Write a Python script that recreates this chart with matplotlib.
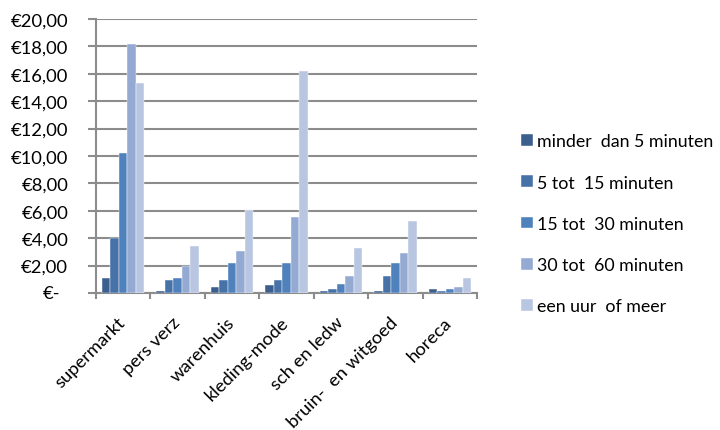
import numpy as np
import matplotlib
matplotlib.use("Agg")
import matplotlib.pyplot as plt
from matplotlib.ticker import MultipleLocator, FuncFormatter
from matplotlib.transforms import ScaledTranslation

categories = ["supermarkt", "pers verz", "warenhuis", "kleding-mode",
              "sch en ledw", "bruin-  en witgoed", "horeca"]
series_names = ["minder  dan 5 minuten", "5 tot  15 minuten", "15 tot  30 minuten",
                "30 tot  60 minuten", "een uur  of meer"]
minder_5 = [1.1, 0.15, 0.45, 0.6, 0.15, 0.15, 0.3]
tot_15 = [4.0, 0.95, 0.95, 0.95, 0.3, 1.25, 0.15]
tot_30 = [10.2, 1.1, 2.2, 2.2, 0.65, 2.2, 0.3]
tot_60 = [18.2, 2.0, 3.1, 5.55, 1.25, 2.95, 0.45]
uur_meer = [15.3, 3.4, 6.05, 16.2, 3.25, 5.25, 1.1]
values = [minder_5, tot_15, tot_30, tot_60, uur_meer]
colors = ["#3C5F8E", "#4772A8", "#4F81BD", "#94AAD3", "#B9C6E1"]

plt.rcParams['font.family'] = ['Lato', 'DejaVu Sans']
FS = 13.2

fig = plt.figure(figsize=(7.2, 4.31), dpi=100)
ax = fig.add_axes([0.1333, 0.3179, 0.5292, 0.6357])

n = len(categories)
x = np.arange(n)
bw = 0.156
for i, (vals, c, name) in enumerate(zip(values, colors, series_names)):
    ax.bar(x + (i - 2) * bw, vals, width=bw, color=c, label=name,
           edgecolor="white", linewidth=0.3, zorder=3)

ax.set_xlim(-0.5, n - 0.5)
ax.set_ylim(0, 20)
ax.yaxis.set_major_locator(MultipleLocator(2))

def fmt(v, pos):
    if abs(v) < 1e-9:
        return ""
    return "€" + f"{v:.2f}".replace(".", ",")
ax.yaxis.set_major_formatter(FuncFormatter(fmt))
ax.annotate("€-", xy=(0, 0), xycoords=("axes fraction", "data"),
            xytext=(-26, 0), textcoords="offset points",
            ha="right", va="center", fontsize=FS)
ax.grid(axis="y", color="#8C8C8C", linewidth=1.5, zorder=0)
ax.set_axisbelow(True)

for s in ["top", "right"]:
    ax.spines[s].set_visible(False)
for s in ["left", "bottom"]:
    ax.spines[s].set_color("#8C8C8C")
    ax.spines[s].set_linewidth(1.5)

ax.set_xticks(np.arange(n + 1) - 0.5, minor=False)
ax.set_xticklabels([])
ax.tick_params(axis="x", which="major", length=4.5, color="#8C8C8C", width=1.5)
ax.set_xticks(x, minor=True)
ax.set_xticklabels(categories, minor=True, rotation=45, ha="right",
                   rotation_mode="anchor", fontsize=FS)
ax.tick_params(axis="x", which="minor", length=0, pad=15)
shift = ScaledTranslation(-6 / 100, 0, fig.dpi_scale_trans)
for lbl in ax.get_xticklabels(minor=True):
    lbl.set_transform(lbl.get_transform() + shift)
ax.tick_params(axis="y", length=6, direction="out", color="#8C8C8C", width=1.5,
               labelsize=FS, pad=14)

fig.legend(loc="upper left", bbox_to_anchor=(0.714, 0.705), frameon=False,
           fontsize=12.8, handlelength=0.65, handleheight=0.65, handletextpad=0.25,
           labelspacing=1.42, borderaxespad=0)

fig.savefig("out.png", dpi=100)
